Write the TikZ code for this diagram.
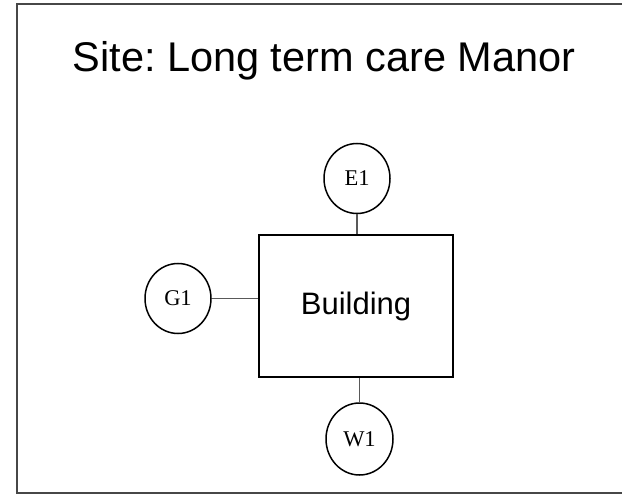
\documentclass[tikz,border=0pt]{standalone}
\usepackage{fontspec}
\setmainfont{Liberation Serif}
\newfontfamily\arialfont{Liberation Sans}
\usetikzlibrary{shapes.geometric}
\frenchspacing
\begin{document}
\begin{tikzpicture}[x=1pt,y=-1pt,
  frameline/.style={draw=black!72,line width=2pt},
  sitebox/.style={draw=black,line width=1.7pt,rectangle,inner sep=0pt,
    minimum width=194pt,minimum height=142pt,
    font=\arialfont\fontsize{31}{36}\selectfont},
  utility/.style={draw=black,line width=1.5pt,ellipse,inner sep=0pt,
    minimum width=66pt,minimum height=70pt,
    font=\fontsize{22.5}{26}\selectfont},
  link/.style={draw=black!65,line width=1.6pt}]
\useasboundingbox (0,0) rectangle (622,495);
\fill[white] (0,0) rectangle (622,495);
% outer frame, open to the right
\draw[frameline] (622,4.5) -- (17,4.5) -- (17,492.5) -- (622,492.5);
% heading
\node[anchor=base,inner sep=0pt,font=\arialfont\fontsize{41.5}{48}\selectfont]
  (title) at (324,72) {Site: Long term care Manor};
% building and its utility connections
\node[sitebox] (building) at (356,306) {Building};
\node[utility] (e1) at (357,178.5) {E1};
\node[utility] (g1) at (178,298.5) {G1};
\node[utility,minimum width=67pt,minimum height=72pt] (w1) at (359.5,439) {W1};
\draw[link] (e1.south) -- (e1.south |- building.north);
\draw[link] (g1.east) -- (building.west |- g1.east);
\draw[link] (w1.north) -- (w1.north |- building.south);
\end{tikzpicture}
\end{document}
